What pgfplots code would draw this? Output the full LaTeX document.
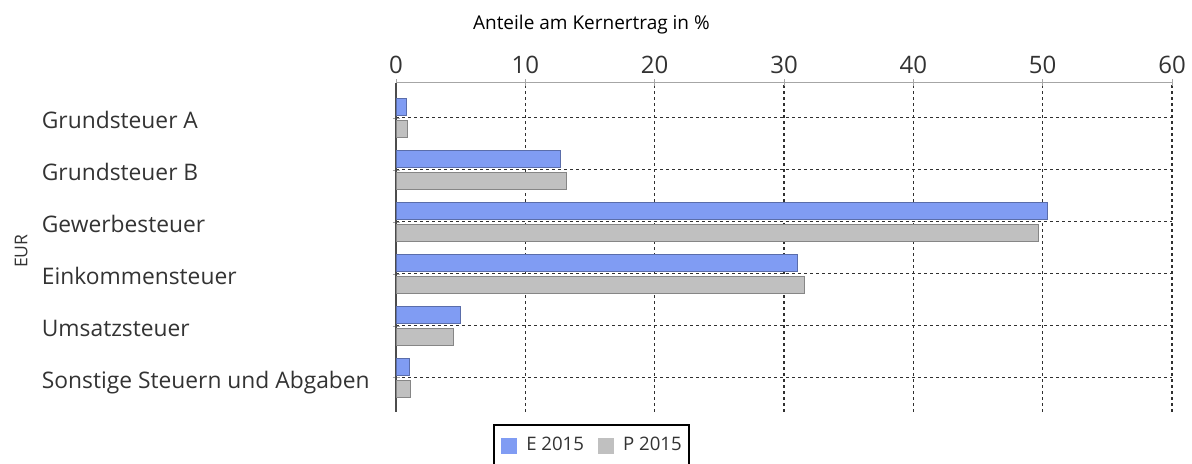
\documentclass[border=0pt]{standalone}
\usepackage{fontspec}
\setmainfont{Open Sans}
\usepackage{pgfplots}
\pgfplotsset{compat=1.18}
\definecolor{eblue}{HTML}{809CF3}
\definecolor{pgray}{HTML}{C0C0C0}
\definecolor{gridc}{HTML}{303030}
\definecolor{txt}{HTML}{333333}
\begin{document}
\begin{tikzpicture}
\useasboundingbox (0,0) rectangle (596pt,232pt);
\begin{axis}[
 at={(198pt,26pt)}, anchor=south west,
 scale only axis, width=388pt, height=164.5pt,
 xmin=0, xmax=60, ymin=-0.66, ymax=5.67,
 xbar, bar width=8.5pt,
 axis x line*=top, axis y line*=left,
 axis line style={-},
 x axis line style={gray!70, line width=0.5pt},
 y axis line style={black!70, line width=0.7pt},
 xtick={0,10,...,60},
 ytick={0,...,5},
 yticklabels={Sonstige Steuern und Abgaben, Umsatzsteuer, Einkommensteuer, Gewerbesteuer, Grundsteuer B, Grundsteuer A},
 xmajorgrids, ymajorgrids,
 major grid style={gridc, dash pattern=on 1.5pt off 1.5pt, line width=0.6pt},
 tick align=center, major tick length=3.5pt,
 tick style={gray!70},
 /pgf/number format/assume math mode=true,
 xticklabel style={font=\fontsize{12}{14}\selectfont, text=txt, inner sep=0pt, yshift=2.5pt},
 yticklabel style={font=\fontsize{11.4}{13}\selectfont, text=txt, anchor=base west, inner sep=0pt, xshift=-175.5pt, yshift=-5.5pt},
 title={Anteile am Kernertrag in \%},
 title style={font=\fontsize{9.5}{11}\selectfont, text=black, at={(axis description cs:0.2518,1.1268)}, anchor=base},
 ylabel={EUR},
 ylabel style={font=\fontsize{8.8}{10}\selectfont, text=txt, at={(axis description cs:-0.4829,0.489)}, anchor=center},
 legend style={at={(axis description cs:0.2518,-0.0374)}, anchor=north, legend columns=2, draw=black, line width=1pt,
   font=\fontsize{9.3}{11}\selectfont, text=txt, inner xsep=3.5pt, inner ysep=6pt, nodes={inner sep=0pt},
   /tikz/every odd column/.append style={column sep=4.7pt},
   /tikz/every even column/.append style={column sep=7pt}},
]
\addplot[fill=eblue, draw=eblue!70!black, line width=0.4pt, bar shift=5.5pt,
  legend image code/.code={\fill[eblue] (0pt,-3.75pt) rectangle (7.5pt,3.75pt);}]
  coordinates {(0.77,5) (12.7,4) (50.4,3) (31.0,2) (4.95,1) (1.0,0)};
\addlegendentry{E 2015}
\addplot[fill=pgray, draw=pgray!70!black, line width=0.4pt, bar shift=-5.5pt,
  legend image code/.code={\fill[pgray] (0pt,-3.75pt) rectangle (7.5pt,3.75pt);}]
  coordinates {(0.85,5) (13.2,4) (49.7,3) (31.6,2) (4.4,1) (1.08,0)};
\addlegendentry{P 2015}
\end{axis}
\end{tikzpicture}
\end{document}
